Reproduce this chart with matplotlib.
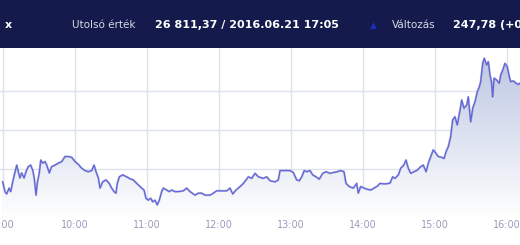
import numpy as np
import matplotlib
matplotlib.use("Agg")
import matplotlib.pyplot as plt
from matplotlib.patches import Rectangle, Polygon

# minutes after 9:00 and index level (BUX, 2016.06.21)
minutes = [0, 1.9, 3.3, 5.3, 6.7, 8.3, 10.3, 11.7, 13, 14.4, 15.8, 17.8, 19.4, 21.3,
           23.3, 25, 26.3, 27.8, 28.8, 30.5, 31.7, 33.3, 35.3, 36.7, 38.8, 40.8, 43.6,
           46.3, 49.2, 51.9, 54.7, 57.5, 60.3, 63, 65.8, 68.6, 71.3, 74.2, 76.1, 77.8,
           79.7, 81.1, 83.3, 86.1, 88.8, 90.8, 92.8, 94.4, 95.5, 97.2, 100, 103.3,
           106.1, 108.8, 111.7, 115.8, 117.8, 119.4, 121.3, 123.3, 125, 126.9, 128.8,
           130.5, 132.5, 133.8, 136.7, 138.8, 140.8, 143.6, 146.3, 150.5, 153.3, 156.1,
           160.3, 163, 165.8, 168.6, 172.8, 175.5, 178.3, 182.5, 186.7, 189.4, 191.7,
           194.4, 197.8, 200.5, 202.8, 204.7, 207.5, 210.3, 213, 217.2, 220, 222.8,
           226.9, 229.7, 231.1, 235.3, 239.4, 242.2, 245, 247.2, 249.2, 251.3, 253.3,
           256.1, 258.3, 261.1, 263.8, 266.7, 269.4, 272.8, 275.5, 278.8, 281.7, 284.4,
           286.1, 288.8, 292.2, 295, 296.3, 298.3, 301.1, 303.8, 306.7, 309.4, 312.2,
           314.4, 317.2, 320, 322.8, 325, 326.9, 329.7, 331.7, 334.2, 336.1, 338, 340,
           342.8, 345.5, 348.3, 350.5, 352.8, 354.7, 356.7, 358.8, 361.1, 363, 365.8,
           367.8, 369.4, 371.3, 373.3, 375, 376.9, 378.8, 381.1, 382.5, 384.4, 386.7,
           388, 390, 391.7, 393.6, 395.5, 397.2, 398.3, 400, 401.3, 403.3, 404.7, 406.1,
           407.5, 408.3, 409.4, 411.7, 413.8, 415, 416.7, 418.6, 420.5, 422.2, 423.3,
           425.5, 427.8, 429.7, 431.1]
level = [26567, 26542, 26536, 26551, 26542, 26567, 26593, 26610, 26593, 26577, 26590,
         26577, 26593, 26606, 26610, 26597, 26577, 26533, 26564, 26590, 26623, 26615,
         26619, 26610, 26590, 26606, 26610, 26615, 26619, 26632, 26632, 26630, 26619,
         26612, 26602, 26596, 26593, 26596, 26610, 26593, 26577, 26551, 26567, 26572,
         26563, 26551, 26542, 26538, 26563, 26580, 26585, 26580, 26575, 26572, 26563,
         26551, 26546, 26525, 26520, 26525, 26516, 26520, 26508, 26520, 26542, 26551,
         26546, 26542, 26546, 26542, 26542, 26544, 26551, 26542, 26533, 26538, 26538,
         26533, 26533, 26538, 26544, 26544, 26544, 26551, 26536, 26546, 26555, 26563,
         26572, 26580, 26576, 26589, 26580, 26576, 26580, 26570, 26567, 26572, 26596,
         26596, 26596, 26591, 26572, 26570, 26580, 26596, 26593, 26596, 26585, 26580,
         26574, 26589, 26593, 26589, 26591, 26593, 26596, 26593, 26563, 26555, 26551,
         26563, 26538, 26555, 26551, 26548, 26546, 26551, 26556, 26563, 26562, 26562,
         26564, 26580, 26576, 26585, 26602, 26610, 26623, 26602, 26589, 26593, 26597,
         26606, 26610, 26593, 26615, 26632, 26649, 26640, 26632, 26630, 26627, 26644,
         26657, 26683, 26726, 26734, 26713, 26751, 26777, 26756, 26764, 26785, 26721,
         26756, 26773, 26798, 26811, 26824, 26871, 26884, 26867, 26875, 26841, 26820,
         26785, 26833, 26828, 26820, 26841, 26854, 26871, 26862, 26837, 26824, 26826,
         26820, 26817, 26820]

hour_ticks = [0, 60, 120, 180, 240, 300, 360, 420]
hour_labels = ["9:00", "10:00", "11:00", "12:00", "13:00", "14:00", "15:00", "16:00"]
level_grid = [26600, 26700, 26800]

W, H = 520, 245
fig = plt.figure(figsize=(W / 100, H / 100), dpi=100)
fig.patch.set_facecolor("white")

# header bar
fig.patches.append(Rectangle((0, 1 - 48 / H), 1, 48 / H, transform=fig.transFigure,
                             facecolor="#141a4c", edgecolor="none", zorder=0))
hy = 1 - 25.5 / H
fig.text(5 / W, hy, "x", color="white", fontsize=8, fontweight="bold", va="center")
fig.text(72 / W, hy, "Utolsó érték", color="#d8dae6", fontsize=7.5, va="center")
fig.text(155 / W, hy, "26 811,37 / 2016.06.21 17:05", color="white", fontsize=8,
         fontweight="bold", va="center")
fig.text(373 / W, hy, "▲", color="#1c2db8", fontsize=6.5, va="center", ha="center")
fig.text(392 / W, hy, "Változás", color="#d8dae6", fontsize=7.5, va="center")
fig.text(453 / W, hy, "247,78 (+0,94%)", color="white", fontsize=8,
         fontweight="bold", va="center")

# chart area
top_px, bot_px = 48, 218
ax = fig.add_axes([0, 1 - bot_px / H, 1, (bot_px - top_px) / H])
x0 = -2.7 / 1.2
x1 = (520 - 2.7) / 1.2
v_per_px = 100 / 39
ylo = 26700 - (bot_px - 130) * v_per_px
yhi = 26700 + (130 - top_px) * v_per_px
for s in ax.spines.values():
    s.set_visible(False)
ax.set_facecolor("white")

ax.set_yticks(level_grid)
ax.set_yticklabels([])
ax.set_xticks(hour_ticks)
ax.set_xticklabels(hour_labels, color="#9a9cbc", fontsize=7)
ax.tick_params(length=0, pad=1.5)
ax.grid(True, color="#dde2ee", linewidth=1)
ax.set_axisbelow(True)

# gradient fill under the line
grad = np.linspace(0, 1, 256).reshape(-1, 1)
top_c = np.array([0.74, 0.78, 0.89])
bot_c = np.array([1.0, 1.0, 1.0])
img = top_c * (1 - grad[..., None]) + bot_c * grad[..., None]
img = img.reshape(256, 1, 3)
im = ax.imshow(img, extent=[x0, x1, ylo, 26890], aspect="auto", origin="upper",
               zorder=1, interpolation="bilinear")
verts = [(minutes[0], ylo)] + list(zip(minutes, level)) + [(minutes[-1], ylo)]
poly = Polygon(verts, closed=True, facecolor="none", edgecolor="none")
ax.add_patch(poly)
im.set_clip_path(poly)
ax.set_xlim(x0, x1)
ax.set_ylim(ylo, yhi)

ax.plot(minutes, level, color="#8a8ab0", linewidth=1.6, alpha=0.5, zorder=2)
ax.plot(minutes, level, color="#5f63e0", linewidth=0.9, zorder=3)

fig.savefig("out.png", dpi=100)
